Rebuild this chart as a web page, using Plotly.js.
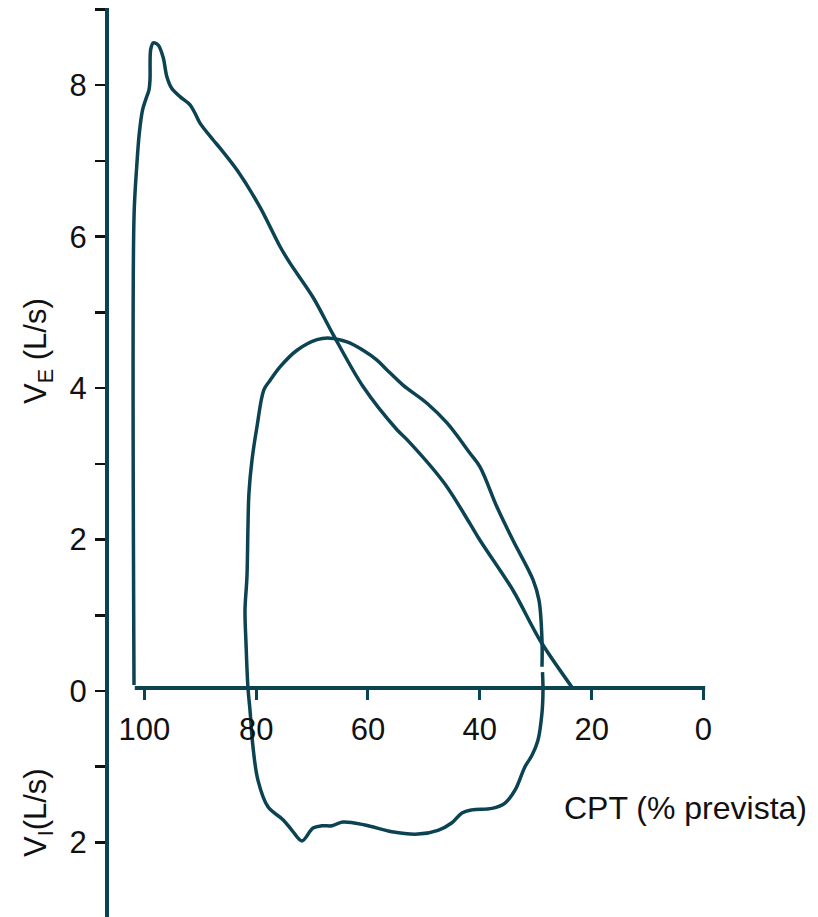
<!DOCTYPE html>
<html>
<head>
<meta charset="utf-8">
<script src="https://cdn.plot.ly/plotly-3.0.1.min.js"></script>
<style>html,body{margin:0;padding:0;background:#fff}#chart{width:818px;height:917px}</style>
</head>
<body>
<div id="chart"></div>
<script>
// Curva normal (CPT % prevista vs fluxo L/s)
const cptNormal = [101.84,101.84,101.36,100.89,100.29,99.75,99.16,98.98,98.86,98.39,97.50,96.60,95.99,95.10,93.62,91.82,90.93,90.04,87.71,86.46,83.42,79.31,75.73,73.94,69.83,66.25,60.88,54.81,53.02,46.30,41.76,39.97,34.07,29.24,23.52];
const flowNormal = [0.08,6.26,6.92,7.37,7.68,7.81,7.94,8.07,8.47,8.56,8.53,8.36,8.12,7.96,7.85,7.74,7.63,7.50,7.28,7.17,6.88,6.39,5.87,5.65,5.20,4.71,4.02,3.45,3.32,2.74,2.21,1.99,1.33,0.67,0.05];
// Curva do laço (expiração/inspiração)
const cptLoop = [28.79,28.70,28.88,29.60,30.67,31.92,33.71,35.50,37.82,41.40,43.19,44.98,47.48,51.06,55.71,60.54,64.47,66.44,68.23,69.83,71.80,73.59,75.20,77.88,79.67,80.56,81.10,81.46,81.81,81.99,81.64,81.46,81.28,80.74,79.85,78.60,77.52,75.73,72.69,69.11,66.79,63.75,60.88,58.39,56.60,53.74,49.45,45.87,41.76,39.97,36.93,34.07,30.49,29.42,28.88,28.88];
const flowLoop = [0.25,0.01,-0.29,-0.65,-0.85,-1.00,-1.31,-1.48,-1.55,-1.57,-1.61,-1.74,-1.84,-1.89,-1.86,-1.77,-1.73,-1.78,-1.78,-1.81,-1.98,-1.84,-1.70,-1.53,-1.18,-0.74,-0.25,0.04,0.63,1.07,1.51,2.17,2.62,3.05,3.49,3.98,4.10,4.28,4.50,4.64,4.66,4.61,4.50,4.37,4.24,4.04,3.80,3.54,3.14,2.96,2.43,1.99,1.47,1.20,0.67,0.32];
// Eixos
const xTickVals = [100,80,60,40,20,0];
const xTickText = ['100','80','60','40','20','0'];
const yTickVals = [-2,-1,0,1,2,3,4,5,6,7,8,9];
const yTickText = ['2','','0','','2','','4','','6','','8',''];

const teal = '#0b4352';
const font = 'Liberation Sans, Arial, Helvetica, sans-serif';

const traces = [
  {x: cptNormal, y: flowNormal, mode: 'lines', line: {color: teal, width: 3.5, shape: 'spline', smoothing: 0.9}, hoverinfo: 'skip'},
  {x: cptLoop, y: flowLoop, mode: 'lines', line: {color: teal, width: 3.5, shape: 'spline', smoothing: 1}, hoverinfo: 'skip'}
];

const layout = {
  width: 818, height: 917,
  margin: {l: 107, r: 0, t: 8, b: 0},
  paper_bgcolor: '#fff', plot_bgcolor: '#fff',
  showlegend: false,
  font: {family: font, color: '#111'},
  xaxis: {
    range: [106.67, -20.48], anchor: 'free', position: 0.2508,
    showline: false, zeroline: false, showgrid: false,
    tickmode: 'array', tickvals: xTickVals, ticktext: xTickText,
    ticks: 'outside', ticklen: 10, tickwidth: 3, tickcolor: teal,
    tickfont: {size: 31, color: '#111', family: font}, ticklabelstandoff: 3
  },
  yaxis: {
    range: [-2.985, 9.02], anchor: 'free', position: 0,
    showline: true, linecolor: teal, linewidth: 4,
    zeroline: false, showgrid: false,
    tickmode: 'array', tickvals: yTickVals, ticktext: yTickText,
    ticks: 'outside', ticklen: 10, tickwidth: 2.5, tickcolor: '#111',
    tickfont: {size: 31, color: '#111', family: font}, ticklabelstandoff: 2
  },
  shapes: [
    {type: 'line', xref: 'x', yref: 'y', x0: 101.7, x1: -0.3, y0: 0.04, y1: 0.04, line: {color: teal, width: 4}}
  ],
  annotations: [
    {text: 'V<sub>E</sub> (L/s)', xref: 'paper', yref: 'paper', x: -0.097, y: 0.6227, xanchor: 'center', yanchor: 'middle', textangle: -90, showarrow: false, font: {size: 31, color: '#111', family: font}},
    {text: 'V<sub>I</sub>(L/s)', xref: 'paper', yref: 'paper', x: -0.097, y: 0.1144, xanchor: 'center', yanchor: 'middle', textangle: -90, showarrow: false, font: {size: 31, color: '#111', family: font}},
    {text: 'CPT (% prevista)', xref: 'paper', yref: 'paper', x: 0.988, y: 0.12, xanchor: 'right', yanchor: 'middle', showarrow: false, font: {size: 32, color: '#111', family: font}}
  ]
};

Plotly.newPlot('chart', traces, layout, {displayModeBar: false, staticPlot: true});
</script>
</body>
</html>
